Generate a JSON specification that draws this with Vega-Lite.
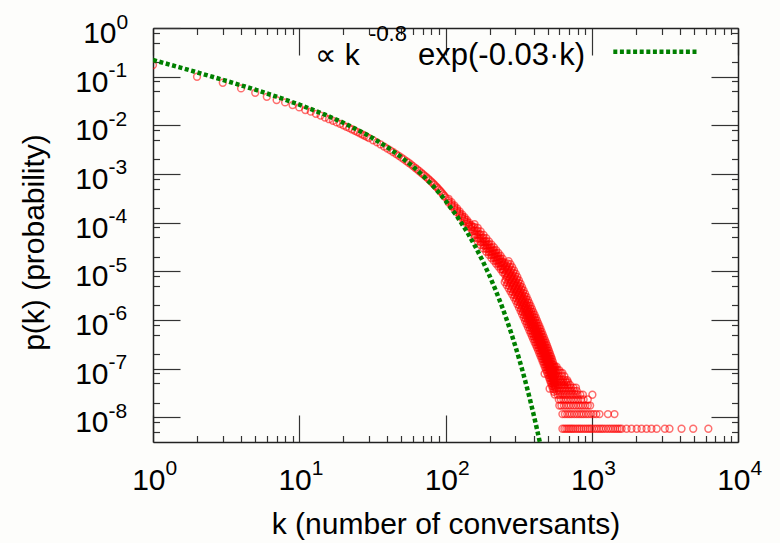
{
  "$schema": "https://vega.github.io/schema/vega-lite/v6.json",
  "width": 585,
  "height": 414,
  "autosize": {"type": "none"},
  "padding": {"left": 153, "top": 28, "right": 42, "bottom": 101},
  "background": "#fdfdfb",
  "config": {
    "view": {"stroke": null},
    "font": "Liberation Sans",
    "axis": {"grid": false, "labelFont": "Liberation Sans", "titleFont": "Liberation Sans", "labelColor": "#000000", "titleColor": "#000000", "titleFontWeight": "normal"}
  },
  "datasets": {
    "observed": [
      {"k":1,"p":0.173},{"k":2,"p":0.0995},{"k":3,"p":0.075},{"k":4,"p":0.0574},{"k":5,"p":0.0466},{"k":6,"p":0.0386},{"k":7,"p":0.033},{"k":8,"p":0.0296},{"k":9,"p":0.026},{"k":10,"p":0.0233},
      {"k":11,"p":0.0206},{"k":12,"p":0.0191},{"k":13,"p":0.0172},{"k":14,"p":0.01585},{"k":15,"p":0.01445},{"k":16,"p":0.01334},{"k":17,"p":0.01236},{"k":18,"p":0.01148},{"k":19,"p":0.01072},
      {"k":20,"p":0.00998},{"k":21,"p":0.00933},{"k":22,"p":0.00875},{"k":23,"p":0.00822},{"k":24,"p":0.00773},{"k":25,"p":0.00728},{"k":26,"p":0.00685},{"k":27,"p":0.00647},{"k":28,"p":0.00611},{"k":29,"p":0.00578},
      {"k":30,"p":0.00547},{"k":32,"p":0.00493},{"k":34,"p":0.00446},{"k":36,"p":0.00404},{"k":38,"p":0.00366},{"k":40,"p":0.00333},{"k":42,"p":0.00305},{"k":44,"p":0.0028},{"k":46,"p":0.00256},{"k":48,"p":0.00236},
      {"k":50,"p":0.00216},{"k":52,"p":0.00199},{"k":54,"p":0.00184},{"k":56,"p":0.0017},{"k":58,"p":0.00157},{"k":60,"p":0.00145},{"k":62,"p":0.00134},{"k":64,"p":0.00124},{"k":66,"p":0.00115},{"k":68,"p":0.00107},
      {"k":70,"p":0.000995},{"k":72,"p":0.000925},{"k":74,"p":0.000861},{"k":76,"p":0.0008},{"k":78,"p":0.000745},{"k":80,"p":0.000695},{"k":82,"p":0.000646},{"k":84,"p":0.0006},{"k":86,"p":0.000558},{"k":88,"p":0.00052},
      {"k":90,"p":0.000484},{"k":92,"p":0.000449},{"k":94,"p":0.000416},{"k":96,"p":0.000385},{"k":98,"p":0.000357},{"k":100,"p":0.000331},
      {"k":105,"p":3.09e-4},{"k":105,"p":2.82e-4},{"k":105,"p":2.57e-4},{"k":110,"p":2.63e-4},{"k":110,"p":2.40e-4},{"k":110,"p":2.19e-4},
      {"k":115,"p":2.26e-4},{"k":115,"p":2.07e-4},{"k":115,"p":1.88e-4},{"k":120,"p":1.95e-4},{"k":120,"p":1.78e-4},{"k":120,"p":1.62e-4},
      {"k":125,"p":1.70e-4},{"k":125,"p":1.55e-4},{"k":125,"p":1.41e-4},{"k":130,"p":1.48e-4},{"k":130,"p":1.35e-4},{"k":130,"p":1.23e-4},
      {"k":135,"p":1.29e-4},{"k":135,"p":1.175e-4},{"k":135,"p":1.07e-4},{"k":140,"p":1.135e-4},{"k":140,"p":1.035e-4},{"k":140,"p":9.44e-5},
      {"k":145,"p":1.0e-4},{"k":145,"p":9.12e-5},{"k":145,"p":8.32e-5},{"k":150,"p":8.91e-5},{"k":150,"p":8.13e-5},{"k":150,"p":7.41e-5},
      {"k":154,"p":8.13e-5},{"k":154,"p":6.76e-5},
      {"k":158,"p":9.33e-5},{"k":158,"p":8.13e-5},{"k":158,"p":6.76e-5},{"k":158,"p":5.62e-5},{"k":158,"p":4.90e-5},{"k":162,"p":6.79e-5},{"k":162,"p":5.65e-5},
      {"k":166,"p":7.83e-5},{"k":166,"p":6.82e-5},{"k":166,"p":5.68e-5},{"k":166,"p":4.72e-5},{"k":166,"p":4.11e-5},{"k":170,"p":5.71e-5},{"k":170,"p":4.75e-5},
      {"k":174,"p":6.59e-5},{"k":174,"p":5.74e-5},{"k":174,"p":4.78e-5},{"k":174,"p":3.97e-5},{"k":174,"p":3.46e-5},{"k":178,"p":4.83e-5},{"k":178,"p":4.02e-5},
      {"k":182,"p":5.61e-5},{"k":182,"p":4.89e-5},{"k":182,"p":4.06e-5},{"k":182,"p":3.38e-5},{"k":182,"p":2.94e-5},{"k":186,"p":4.12e-5},{"k":186,"p":3.42e-5},
      {"k":190,"p":4.79e-5},{"k":190,"p":4.17e-5},{"k":190,"p":3.47e-5},{"k":190,"p":2.88e-5},{"k":190,"p":2.51e-5},{"k":194,"p":3.53e-5},{"k":194,"p":2.94e-5},
      {"k":198,"p":4.13e-5},{"k":198,"p":3.60e-5},{"k":198,"p":2.99e-5},{"k":198,"p":2.49e-5},{"k":198,"p":2.17e-5},{"k":202,"p":3.05e-5},{"k":202,"p":2.54e-5},
      {"k":206,"p":3.57e-5},{"k":206,"p":3.11e-5},{"k":206,"p":2.59e-5},{"k":206,"p":2.15e-5},{"k":206,"p":1.875e-5},{"k":210,"p":2.65e-5},{"k":210,"p":2.21e-5},
      {"k":214,"p":3.12e-5},{"k":214,"p":2.72e-5},{"k":214,"p":2.26e-5},{"k":214,"p":1.88e-5},{"k":214,"p":1.64e-5},{"k":218,"p":2.32e-5},{"k":218,"p":1.93e-5},
      {"k":222,"p":2.73e-5},{"k":222,"p":2.38e-5},{"k":222,"p":1.98e-5},{"k":222,"p":1.64e-5},{"k":222,"p":1.43e-5},{"k":226,"p":2.03e-5},{"k":226,"p":1.69e-5},
      {"k":230,"p":2.39e-5},{"k":230,"p":2.08e-5},{"k":230,"p":1.73e-5},{"k":230,"p":1.44e-5},{"k":230,"p":1.25e-5},{"k":234,"p":1.77e-5},{"k":234,"p":1.48e-5},
      {"k":238,"p":2.09e-5},{"k":238,"p":1.82e-5},{"k":238,"p":1.51e-5},{"k":238,"p":1.26e-5},{"k":238,"p":1.096e-5},{"k":242,"p":1.55e-5},{"k":242,"p":1.29e-5},
      {"k":246,"p":1.815e-5},{"k":246,"p":1.58e-5},{"k":246,"p":1.315e-5},{"k":246,"p":1.09e-5},{"k":246,"p":9.53e-6},{"k":250,"p":1.41e-5},{"k":250,"p":1.07e-5},
      {"k":254,"p":1.50e-5},{"k":254,"p":1.14e-5},{"k":254,"p":8.65e-6},{"k":254,"p":5.98e-6},
      {"k":258,"p":1.22e-5},{"k":258,"p":9.24e-6},{"k":258,"p":6.69e-6},
      {"k":262,"p":1.30e-5},{"k":262,"p":9.86e-6},{"k":262,"p":7.48e-6},{"k":262,"p":5.18e-6},
      {"k":266,"p":1.45e-5},{"k":266,"p":1.05e-5},{"k":266,"p":7.98e-6},{"k":266,"p":5.78e-6},
      {"k":270,"p":1.62e-5},{"k":270,"p":1.12e-5},{"k":270,"p":8.51e-6},{"k":270,"p":6.46e-6},{"k":270,"p":4.47e-6},
      {"k":274,"p":1.25e-5},{"k":274,"p":9.08e-6},{"k":274,"p":6.89e-6},{"k":274,"p":4.99e-6},
      {"k":278,"p":1.40e-5},{"k":278,"p":9.68e-6},{"k":278,"p":7.35e-6},{"k":278,"p":5.57e-6},{"k":278,"p":3.85e-6},
      {"k":282,"p":1.08e-5},{"k":282,"p":7.83e-6},{"k":282,"p":5.94e-6},{"k":282,"p":4.31e-6},
      {"k":286,"p":1.21e-5},{"k":286,"p":8.36e-6},{"k":286,"p":6.34e-6},{"k":286,"p":4.81e-6},{"k":286,"p":3.33e-6},
      {"k":290,"p":9.33e-6},{"k":290,"p":6.76e-6},{"k":290,"p":5.13e-6},{"k":290,"p":3.72e-6},
      {"k":294,"p":1.04e-5},{"k":294,"p":7.21e-6},{"k":294,"p":5.47e-6},{"k":294,"p":4.15e-6},{"k":294,"p":2.87e-6},
      {"k":298,"p":8.04e-6},{"k":298,"p":5.83e-6},{"k":298,"p":4.42e-6},{"k":298,"p":3.20e-6},
      {"k":302,"p":8.97e-6},{"k":302,"p":6.21e-6},{"k":302,"p":4.71e-6},{"k":302,"p":3.57e-6},{"k":302,"p":2.47e-6},
      {"k":306,"p":6.89e-6},{"k":306,"p":4.99e-6},{"k":306,"p":3.78e-6},{"k":306,"p":2.74e-6},
      {"k":310,"p":7.64e-6},{"k":310,"p":5.28e-6},{"k":310,"p":4.01e-6},{"k":310,"p":3.04e-6},{"k":310,"p":2.10e-6},
      {"k":314,"p":5.86e-6},{"k":314,"p":4.25e-6},{"k":314,"p":3.22e-6},{"k":314,"p":2.33e-6},
      {"k":318,"p":6.50e-6},{"k":318,"p":4.50e-6},{"k":318,"p":3.41e-6},{"k":318,"p":2.59e-6},{"k":318,"p":1.79e-6},
      {"k":322,"p":5.00e-6},{"k":322,"p":3.62e-6},{"k":322,"p":2.74e-6},{"k":322,"p":1.99e-6},
      {"k":326,"p":5.55e-6},{"k":326,"p":3.84e-6},{"k":326,"p":2.91e-6},{"k":326,"p":2.21e-6},{"k":326,"p":1.53e-6},
      {"k":330,"p":4.27e-6},{"k":330,"p":3.09e-6},{"k":330,"p":2.34e-6},{"k":330,"p":1.70e-6},
      {"k":334,"p":4.74e-6},{"k":334,"p":3.28e-6},{"k":334,"p":2.49e-6},{"k":334,"p":1.89e-6},{"k":334,"p":1.306e-6},
      {"k":338,"p":3.65e-6},{"k":338,"p":2.64e-6},{"k":338,"p":2.00e-6},{"k":338,"p":1.45e-6},
      {"k":342,"p":4.06e-6},{"k":342,"p":2.81e-6},{"k":342,"p":2.13e-6},{"k":342,"p":1.61e-6},{"k":342,"p":1.117e-6},
      {"k":346,"p":3.12e-6},{"k":346,"p":2.26e-6},{"k":346,"p":1.71e-6},{"k":346,"p":1.24e-6},
      {"k":350,"p":3.47e-6},{"k":350,"p":2.40e-6},{"k":350,"p":1.82e-6},{"k":350,"p":1.38e-6},{"k":350,"p":9.55e-7},
      {"k":354,"p":2.68e-6},{"k":354,"p":1.94e-6},{"k":354,"p":1.47e-6},{"k":354,"p":1.07e-6},
      {"k":358,"p":2.99e-6},{"k":358,"p":2.07e-6},{"k":358,"p":1.57e-6},{"k":358,"p":1.19e-6},{"k":358,"p":8.24e-7},
      {"k":362,"p":2.31e-6},{"k":362,"p":1.67e-6},{"k":362,"p":1.27e-6},{"k":362,"p":9.20e-7},
      {"k":366,"p":2.58e-6},{"k":366,"p":1.79e-6},{"k":366,"p":1.355e-6},{"k":366,"p":1.03e-6},{"k":366,"p":7.11e-7},
      {"k":370,"p":2.00e-6},{"k":370,"p":1.445e-6},{"k":370,"p":1.096e-6},{"k":370,"p":7.94e-7},
      {"k":374,"p":2.23e-6},{"k":374,"p":1.54e-6},{"k":374,"p":1.17e-6},{"k":374,"p":8.87e-7},{"k":374,"p":6.14e-7},
      {"k":378,"p":1.73e-6},{"k":378,"p":1.25e-6},{"k":378,"p":9.49e-7},{"k":378,"p":6.88e-7},
      {"k":382,"p":1.94e-6},{"k":382,"p":1.34e-6},{"k":382,"p":1.016e-6},{"k":382,"p":7.71e-7},{"k":382,"p":5.33e-7},
      {"k":386,"p":1.50e-6},{"k":386,"p":1.088e-6},{"k":386,"p":8.25e-7},{"k":386,"p":5.98e-7},
      {"k":390,"p":1.68e-6},{"k":390,"p":1.164e-6},{"k":390,"p":8.83e-7},{"k":390,"p":6.70e-7},{"k":390,"p":4.63e-7},
      {"k":394,"p":1.30e-6},{"k":394,"p":9.45e-7},{"k":394,"p":7.17e-7},{"k":394,"p":5.19e-7},
      {"k":398,"p":1.46e-6},{"k":398,"p":1.01e-6},{"k":398,"p":7.67e-7},{"k":398,"p":5.82e-7},{"k":398,"p":4.03e-7},
      {"k":402,"p":1.14e-6},{"k":402,"p":8.24e-7},{"k":402,"p":6.25e-7},{"k":402,"p":4.53e-7},
      {"k":406,"p":1.28e-6},{"k":406,"p":8.85e-7},{"k":406,"p":6.71e-7},{"k":406,"p":5.09e-7},{"k":406,"p":3.52e-7},
      {"k":410,"p":9.95e-7},{"k":410,"p":7.21e-7},{"k":410,"p":5.47e-7},{"k":410,"p":3.96e-7},
      {"k":414,"p":1.12e-6},{"k":414,"p":7.74e-7},{"k":414,"p":5.87e-7},{"k":414,"p":4.46e-7},{"k":414,"p":3.08e-7},
      {"k":418,"p":8.72e-7},{"k":418,"p":6.32e-7},{"k":418,"p":4.79e-7},{"k":418,"p":3.47e-7},
      {"k":422,"p":9.82e-7},{"k":422,"p":6.79e-7},{"k":422,"p":5.15e-7},{"k":422,"p":3.91e-7},{"k":422,"p":2.70e-7},
      {"k":426,"p":7.64e-7},{"k":426,"p":5.53e-7},{"k":426,"p":4.20e-7},{"k":426,"p":3.04e-7},
      {"k":430,"p":8.59e-7},{"k":430,"p":5.94e-7},{"k":430,"p":4.51e-7},{"k":430,"p":3.42e-7},{"k":430,"p":2.37e-7},
      {"k":434,"p":6.68e-7},{"k":434,"p":4.84e-7},{"k":434,"p":3.67e-7},{"k":434,"p":2.66e-7},
      {"k":438,"p":7.52e-7},{"k":438,"p":5.20e-7},{"k":438,"p":3.94e-7},{"k":438,"p":2.99e-7},{"k":438,"p":2.07e-7},
      {"k":442,"p":5.85e-7},{"k":442,"p":4.24e-7},{"k":442,"p":3.22e-7},{"k":442,"p":2.33e-7},
      {"k":446,"p":6.59e-7},{"k":446,"p":4.56e-7},{"k":446,"p":3.46e-7},{"k":446,"p":2.62e-7},{"k":446,"p":1.815e-7},
      {"k":450,"p":5.13e-7},{"k":450,"p":3.72e-7},{"k":450,"p":2.82e-7},{"k":450,"p":2.04e-7},
      {"k":454,"p":5.77e-7},{"k":454,"p":3.99e-7},{"k":454,"p":3.03e-7},{"k":454,"p":2.30e-7},{"k":454,"p":1.59e-7},
      {"k":458,"p":4.49e-7},{"k":458,"p":3.25e-7},{"k":458,"p":2.47e-7},{"k":458,"p":1.79e-7},
      {"k":462,"p":5.06e-7},{"k":462,"p":3.50e-7},{"k":462,"p":2.65e-7},{"k":462,"p":2.01e-7},{"k":462,"p":1.39e-7},
      {"k":466,"p":3.94e-7},{"k":466,"p":2.85e-7},{"k":466,"p":2.16e-7},{"k":466,"p":1.57e-7},
      {"k":470,"p":4.43e-7},{"k":470,"p":3.06e-7},{"k":470,"p":2.32e-7},{"k":470,"p":1.76e-7},{"k":470,"p":1.22e-7},
      {"k":474,"p":3.45e-7},{"k":474,"p":2.50e-7},{"k":474,"p":1.90e-7},{"k":474,"p":1.37e-7},
      {"k":478,"p":3.89e-7},{"k":478,"p":2.69e-7},{"k":478,"p":2.04e-7},{"k":478,"p":1.55e-7},{"k":478,"p":1.07e-7},
      {"k":482,"p":3.04e-7},{"k":482,"p":2.20e-7},{"k":482,"p":1.67e-7},{"k":482,"p":1.21e-7},
      {"k":486,"p":3.43e-7},{"k":486,"p":2.37e-7},{"k":486,"p":1.80e-7},{"k":486,"p":1.365e-7},{"k":486,"p":9.44e-8},
      {"k":490,"p":2.68e-7},{"k":490,"p":1.94e-7},{"k":490,"p":1.47e-7},{"k":490,"p":1.07e-7},
      {"k":494,"p":3.03e-7},{"k":494,"p":2.09e-7},{"k":494,"p":1.59e-7},{"k":494,"p":1.205e-7},{"k":494,"p":8.34e-8},
      {"k":498,"p":2.36e-7},{"k":498,"p":1.71e-7},{"k":498,"p":1.30e-7},{"k":498,"p":9.41e-8},
      {"k":502,"p":2.67e-7},{"k":502,"p":1.845e-7},{"k":502,"p":1.40e-7},{"k":502,"p":1.06e-7},{"k":502,"p":7.35e-8},
      {"k":506,"p":2.08e-7},{"k":506,"p":1.51e-7},{"k":506,"p":1.14e-7},{"k":506,"p":8.28e-8},
      {"k":510,"p":2.34e-7},{"k":510,"p":1.62e-7},{"k":510,"p":1.23e-7},{"k":510,"p":9.33e-8},{"k":510,"p":6.46e-8},
      {"k":514,"p":1.83e-7},{"k":514,"p":1.32e-7},{"k":514,"p":1.005e-7},{"k":514,"p":7.28e-8},
      {"k":518,"p":2.06e-7},{"k":518,"p":1.43e-7},{"k":518,"p":1.08e-7},{"k":518,"p":8.20e-8},{"k":518,"p":5.68e-8},
      {"k":522,"p":1.61e-7},{"k":522,"p":1.164e-7},{"k":522,"p":8.83e-8},{"k":522,"p":6.40e-8},
      {"k":526,"p":1.81e-7},{"k":526,"p":1.25e-7},{"k":526,"p":9.51e-8},{"k":526,"p":7.21e-8},{"k":526,"p":4.99e-8},
      {"k":530,"p":1.41e-7},{"k":530,"p":1.02e-7},{"k":530,"p":7.75e-8},{"k":530,"p":5.62e-8},
      {"k":534,"p":1.59e-7},{"k":534,"p":1.10e-7},{"k":534,"p":8.34e-8},{"k":534,"p":6.32e-8},{"k":534,"p":4.38e-8},
      {"k":538,"p":1.235e-7},{"k":538,"p":8.94e-8},{"k":538,"p":6.79e-8},{"k":538,"p":4.91e-8},
      {"k":542,"p":1.39e-7},{"k":542,"p":9.59e-8},{"k":542,"p":7.28e-8},{"k":542,"p":5.52e-8},{"k":542,"p":3.82e-8},
      {"k":546,"p":1.08e-7},{"k":546,"p":7.81e-8},{"k":546,"p":5.92e-8},{"k":546,"p":4.29e-8},
      {"k":550,"p":1.21e-7},{"k":550,"p":8.38e-8},{"k":550,"p":6.35e-8},{"k":550,"p":4.82e-8},{"k":550,"p":3.33e-8},
      {"k":554,"p":9.42e-8},{"k":554,"p":6.82e-8},{"k":554,"p":5.18e-8},{"k":554,"p":3.75e-8},
      {"k":558,"p":1.06e-7},{"k":558,"p":7.33e-8},{"k":558,"p":5.56e-8},{"k":558,"p":4.22e-8},{"k":558,"p":2.92e-8},
      {"k":476,"p":7.85e-8},{"k":515,"p":3.86e-8},
      {"k":630,"p":5.8e-9},{"k":650,"p":5.8e-9},{"k":670,"p":5.8e-9},{"k":690,"p":5.8e-9},{"k":710,"p":5.8e-9},{"k":730,"p":5.8e-9},{"k":750,"p":5.8e-9},{"k":775,"p":5.8e-9},{"k":800,"p":5.8e-9},{"k":825,"p":5.8e-9},
      {"k":850,"p":5.8e-9},{"k":880,"p":5.8e-9},{"k":910,"p":5.8e-9},{"k":940,"p":5.8e-9},{"k":970,"p":5.8e-9},{"k":1000,"p":5.8e-9},{"k":1040,"p":5.8e-9},{"k":1080,"p":5.8e-9},{"k":1120,"p":5.8e-9},{"k":1160,"p":5.8e-9},
      {"k":1200,"p":5.8e-9},{"k":1250,"p":5.8e-9},{"k":1300,"p":5.8e-9},{"k":1350,"p":5.8e-9},{"k":1400,"p":5.8e-9},{"k":1450,"p":5.8e-9},{"k":1500,"p":5.8e-9},{"k":1550,"p":5.8e-9},{"k":1600,"p":5.8e-9},{"k":1730,"p":5.8e-9},
      {"k":1870,"p":5.8e-9},{"k":2030,"p":5.8e-9},{"k":2190,"p":5.8e-9},{"k":2370,"p":5.8e-9},{"k":2560,"p":5.8e-9},{"k":2780,"p":5.8e-9},{"k":3160,"p":5.8e-9},{"k":3400,"p":5.8e-9},{"k":4110,"p":5.8e-9},{"k":4940,"p":5.8e-9},{"k":6270,"p":5.8e-9},
      {"k":630,"p":1.16e-8},{"k":655,"p":1.16e-8},{"k":680,"p":1.16e-8},{"k":705,"p":1.16e-8},{"k":730,"p":1.16e-8},{"k":760,"p":1.16e-8},{"k":790,"p":1.16e-8},{"k":820,"p":1.16e-8},{"k":850,"p":1.16e-8},
      {"k":880,"p":1.16e-8},{"k":915,"p":1.16e-8},{"k":950,"p":1.16e-8},{"k":990,"p":1.16e-8},{"k":1030,"p":1.16e-8},{"k":1075,"p":1.16e-8},{"k":1130,"p":1.16e-8},{"k":1290,"p":1.16e-8},{"k":1430,"p":1.16e-8},
      {"k":600,"p":1.74e-8},{"k":620,"p":1.74e-8},{"k":645,"p":1.74e-8},{"k":670,"p":1.74e-8},{"k":695,"p":1.74e-8},{"k":720,"p":1.74e-8},{"k":750,"p":1.74e-8},{"k":780,"p":1.74e-8},
      {"k":810,"p":1.74e-8},{"k":840,"p":1.74e-8},{"k":870,"p":1.74e-8},{"k":905,"p":1.74e-8},{"k":940,"p":1.74e-8},{"k":975,"p":1.74e-8},
      {"k":595,"p":2.32e-8},{"k":615,"p":2.32e-8},{"k":640,"p":2.32e-8},{"k":665,"p":2.32e-8},{"k":690,"p":2.32e-8},{"k":720,"p":2.32e-8},{"k":750,"p":2.32e-8},{"k":780,"p":2.32e-8},{"k":810,"p":2.32e-8},{"k":845,"p":2.32e-8},{"k":880,"p":2.32e-8},{"k":940,"p":2.32e-8},
      {"k":585,"p":2.9e-8},{"k":605,"p":2.9e-8},{"k":630,"p":2.9e-8},{"k":655,"p":2.9e-8},{"k":680,"p":2.9e-8},{"k":710,"p":2.9e-8},{"k":740,"p":2.9e-8},{"k":770,"p":2.9e-8},{"k":800,"p":2.9e-8},{"k":835,"p":2.9e-8},{"k":870,"p":2.9e-8},{"k":1010,"p":2.9e-8},
      {"k":575,"p":3.48e-8},{"k":595,"p":3.48e-8},{"k":620,"p":3.48e-8},{"k":645,"p":3.48e-8},{"k":670,"p":3.48e-8},{"k":700,"p":3.48e-8},{"k":730,"p":3.48e-8},{"k":760,"p":3.48e-8},{"k":790,"p":3.48e-8},
      {"k":565,"p":4.06e-8},{"k":585,"p":4.06e-8},{"k":610,"p":4.06e-8},{"k":635,"p":4.06e-8},{"k":660,"p":4.06e-8},{"k":690,"p":4.06e-8},{"k":720,"p":4.06e-8},{"k":750,"p":4.06e-8},{"k":780,"p":4.06e-8},
      {"k":560,"p":4.64e-8},{"k":580,"p":4.64e-8},{"k":600,"p":4.64e-8},{"k":625,"p":4.64e-8},{"k":650,"p":4.64e-8},{"k":680,"p":4.64e-8},{"k":710,"p":4.64e-8},
      {"k":555,"p":5.22e-8},{"k":575,"p":5.22e-8},{"k":595,"p":5.22e-8},{"k":620,"p":5.22e-8},{"k":645,"p":5.22e-8},{"k":670,"p":5.22e-8},{"k":690,"p":5.22e-8},
      {"k":548,"p":5.8e-8},{"k":565,"p":5.8e-8},{"k":585,"p":5.8e-8},{"k":610,"p":5.8e-8},{"k":635,"p":5.8e-8},{"k":660,"p":5.8e-8},{"k":680,"p":5.8e-8},
      {"k":540,"p":6.96e-8},{"k":560,"p":6.96e-8},{"k":580,"p":6.96e-8},{"k":600,"p":6.96e-8},{"k":625,"p":6.96e-8},{"k":650,"p":6.96e-8},
      {"k":530,"p":8.12e-8},{"k":550,"p":8.12e-8},{"k":570,"p":8.12e-8},{"k":590,"p":8.12e-8},{"k":615,"p":8.12e-8},{"k":630,"p":8.12e-8},
      {"k":525,"p":9.28e-8},{"k":545,"p":9.28e-8},{"k":565,"p":9.28e-8},{"k":585,"p":9.28e-8},{"k":600,"p":9.28e-8},
      {"k":520,"p":1.1e-7},{"k":540,"p":1.1e-7},{"k":560,"p":1.1e-7},{"k":575,"p":1.1e-7}
    ],
    "fit": [
      {"k":1,"p":0.220},{"k":1.5,"p":0.157},{"k":2,"p":0.1227},{"k":3,"p":0.0861},{"k":4,"p":0.0664},{"k":5,"p":0.054},{"k":7,"p":0.0388},{"k":10,"p":0.0267},
      {"k":15,"p":0.0166},{"k":20,"p":0.01132},{"k":30,"p":0.00607},{"k":40,"p":0.00357},{"k":50,"p":0.00221},{"k":60,"p":0.00142},{"k":70,"p":0.000929},{"k":80,"p":0.000619},
      {"k":90,"p":0.000417},{"k":100,"p":0.000284},{"k":120,"p":1.346e-4},{"k":140,"p":6.53e-5},{"k":160,"p":3.22e-5},{"k":180,"p":1.61e-5},{"k":200,"p":8.11e-6},{"k":220,"p":4.12e-6},
      {"k":240,"p":2.11e-6},{"k":260,"p":1.086e-6},{"k":280,"p":5.62e-7},{"k":300,"p":2.92e-7},{"k":320,"p":1.52e-7},{"k":340,"p":7.96e-8},{"k":360,"p":4.17e-8},{"k":380,"p":2.19e-8},
      {"k":400,"p":1.153e-8},{"k":420,"p":6.10e-9},{"k":440,"p":3.23e-9},{"k":460,"p":1.71e-9}
    ]
  },
  "resolve": {"axis": {"x": "independent", "y": "independent"}},
  "layer": [
    {
      "data": {"name": "observed"},
      "mark": {"type": "point", "shape": "circle", "filled": false, "size": 46, "stroke": "#ff0000", "strokeWidth": 1.5, "strokeOpacity": 0.8, "clip": true},
      "encoding": {
        "x": {
          "field": "k", "type": "quantitative",
          "scale": {"type": "log", "domain": [1, 10000], "nice": false},
          "axis": {
            "orient": "bottom",
            "values": [1,2,3,4,5,6,7,8,9,10,20,30,40,50,60,70,80,90,100,200,300,400,500,600,700,800,900,1000,2000,3000,4000,5000,6000,7000,8000,9000,10000],
            "labels": false, "domain": true, "domainColor": "#222222", "domainWidth": 1.5,
            "ticks": true, "tickColor": "#333333", "tickWidth": 1.2,
            "tickSize": {"condition": {"test": "abs(log(datum.value)/LN10 - round(log(datum.value)/LN10)) < 0.001", "value": -27}, "value": -6.5},
            "title": "k (number of conversants)", "titleFontSize": 30,
            "titleX": 292.5, "titleY": 91, "titleAlign": "center", "titleBaseline": "alphabetic", "titleAnchor": "middle"
          }
        },
        "y": {
          "field": "p", "type": "quantitative",
          "scale": {"type": "log", "domain": [3.1e-9, 1], "nice": false},
          "axis": {
            "orient": "left",
            "values": [1,0.8,0.5,0.2,0.1,0.08,0.05,0.02,0.01,0.008,0.005,0.002,0.001,0.0008,0.0005,0.0002,0.0001,0.00008,0.00005,0.00002,0.00001,0.000008,0.000005,0.000002,0.000001,8e-7,5e-7,2e-7,1e-7,8e-8,5e-8,2e-8,1e-8,8e-9,5e-9],
            "labels": false, "domain": true, "domainColor": "#222222", "domainWidth": 1.5,
            "ticks": true, "tickColor": "#333333", "tickWidth": 1.2,
            "tickSize": {"condition": {"test": "abs(log(datum.value)/LN10 - round(log(datum.value)/LN10)) < 0.001", "value": -27}, "value": -6.5},
            "title": "p(k) (probability)", "titleFontSize": 30, "titleAngle": -90,
            "titleX": -110, "titleY": 214, "titleAlign": "center", "titleBaseline": "alphabetic", "titleAnchor": "middle"
          }
        }
      }
    },
    {
      "data": {"name": "fit"},
      "mark": {"type": "line", "color": "#008000", "strokeWidth": 4.5, "strokeDash": [4, 2.6], "strokeCap": "butt", "clip": true},
      "encoding": {
        "x": {
          "field": "k", "type": "quantitative",
          "scale": {"type": "log", "domain": [1, 10000], "nice": false},
          "axis": {
            "orient": "bottom", "values": [1, 10, 100, 1000, 10000],
            "ticks": false, "tickSize": 0, "domain": false,
            "labelExpr": "'10'", "labelFontSize": 30, "labelAlign": "right", "labelBaseline": "alphabetic",
            "labelOffset": 12, "labelPadding": 47, "labelFlush": false, "labelOverlap": false, "labelBound": false,
            "title": null
          }
        },
        "y": {
          "field": "p", "type": "quantitative",
          "scale": {"type": "log", "domain": [3.1e-9, 1], "nice": false},
          "axis": {
            "orient": "left", "values": [1, 0.1, 0.01, 0.001, 0.0001, 0.00001, 0.000001, 1e-7, 1e-8],
            "ticks": false, "tickSize": 0, "domain": false,
            "labelExpr": "'10'", "labelFontSize": 30, "labelAlign": "right", "labelBaseline": "alphabetic",
            "labelOffset": 14.5,
            "labelPadding": {"condition": {"test": "datum.value > 0.5", "value": 37}, "value": 45},
            "labelFlush": false, "labelOverlap": false, "labelBound": false,
            "title": null
          }
        }
      }
    },
    {
      "data": {"values": [{"series": "fit"}]},
      "mark": {"type": "rule", "color": "#008000", "strokeWidth": 4.5, "strokeDash": [4, 2.6], "strokeCap": "butt"},
      "encoding": {
        "x": {
          "datum": 1404, "type": "quantitative",
          "scale": {"type": "log", "domain": [1, 10000], "nice": false},
          "axis": {
            "orient": "bottom", "values": [1, 10, 100, 1000, 10000],
            "ticks": false, "tickSize": 0, "domain": false,
            "labelExpr": "'' + round(log(datum.value)/LN10)", "labelFontSize": 21, "labelAlign": "left", "labelBaseline": "alphabetic",
            "labelOffset": 12, "labelPadding": 32.5, "labelFlush": false, "labelOverlap": false, "labelBound": false,
            "title": null
          }
        },
        "x2": {"datum": 5353},
        "y": {
          "datum": 0.326, "type": "quantitative",
          "scale": {"type": "log", "domain": [3.1e-9, 1], "nice": false},
          "axis": {
            "orient": "left", "values": [1, 0.1, 0.01, 0.001, 0.0001, 0.00001, 0.000001, 1e-7, 1e-8],
            "ticks": false, "tickSize": 0, "domain": false,
            "labelExpr": "'' + round(log(datum.value)/LN10)", "labelFontSize": 21, "labelAlign": "left", "labelBaseline": "alphabetic",
            "labelOffset": 0,
            "labelPadding": {"condition": {"test": "datum.value > 0.5", "value": 37}, "value": 45},
            "labelFlush": false, "labelOverlap": false, "labelBound": false,
            "title": null
          }
        }
      }
    },
    {
      "data": {"values": [{"label": "∝ k"}]},
      "mark": {"type": "text", "align": "left", "baseline": "alphabetic", "fontSize": 30, "font": "Liberation Sans, DejaVu Sans", "color": "#000000"},
      "encoding": {
        "x": {
          "datum": 12.82, "type": "quantitative",
          "scale": {"type": "log", "domain": [1, 10000], "nice": false},
          "axis": {
            "orient": "top",
            "values": [1,2,3,4,5,6,7,8,9,10,20,30,40,50,60,70,80,90,100,200,300,400,500,600,700,800,900,1000,2000,3000,4000,5000,6000,7000,8000,9000,10000],
            "labels": false, "domain": true, "domainColor": "#222222", "domainWidth": 1.5,
            "ticks": true, "tickColor": "#333333", "tickWidth": 1.2,
            "tickSize": {"condition": {"test": "abs(log(datum.value)/LN10 - round(log(datum.value)/LN10)) < 0.001", "value": -27}, "value": -6.5},
            "title": null
          }
        },
        "y": {
          "datum": 0.174, "type": "quantitative",
          "scale": {"type": "log", "domain": [3.1e-9, 1], "nice": false},
          "axis": {
            "orient": "right",
            "values": [1,0.8,0.5,0.2,0.1,0.08,0.05,0.02,0.01,0.008,0.005,0.002,0.001,0.0008,0.0005,0.0002,0.0001,0.00008,0.00005,0.00002,0.00001,0.000008,0.000005,0.000002,0.000001,8e-7,5e-7,2e-7,1e-7,8e-8,5e-8,2e-8,1e-8,8e-9,5e-9],
            "labels": false, "domain": true, "domainColor": "#222222", "domainWidth": 1.5,
            "ticks": true, "tickColor": "#333333", "tickWidth": 1.2,
            "tickSize": {"condition": {"test": "abs(log(datum.value)/LN10 - round(log(datum.value)/LN10)) < 0.001", "value": -27}, "value": -6.5},
            "title": null
          }
        },
        "text": {"field": "label"}
      }
    },
    {
      "data": {"values": [{"label": "-0.8"}]},
      "mark": {"type": "text", "align": "left", "baseline": "alphabetic", "fontSize": 22, "font": "Liberation Sans", "color": "#000000"},
      "encoding": {
        "x": {"datum": 30, "type": "quantitative", "scale": {"type": "log", "domain": [1, 10000], "nice": false}, "axis": null},
        "y": {"datum": 0.53, "type": "quantitative", "scale": {"type": "log", "domain": [3.1e-9, 1], "nice": false}, "axis": null},
        "text": {"field": "label"}
      }
    },
    {
      "data": {"values": [{"label": "exp(-0.03·k)"}]},
      "mark": {"type": "text", "align": "left", "baseline": "alphabetic", "fontSize": 31, "font": "Liberation Sans", "color": "#000000"},
      "encoding": {
        "x": {"datum": 64.9, "type": "quantitative", "scale": {"type": "log", "domain": [1, 10000], "nice": false}, "axis": null},
        "y": {"datum": 0.174, "type": "quantitative", "scale": {"type": "log", "domain": [3.1e-9, 1], "nice": false}, "axis": null},
        "text": {"field": "label"}
      }
    }
  ]
}
